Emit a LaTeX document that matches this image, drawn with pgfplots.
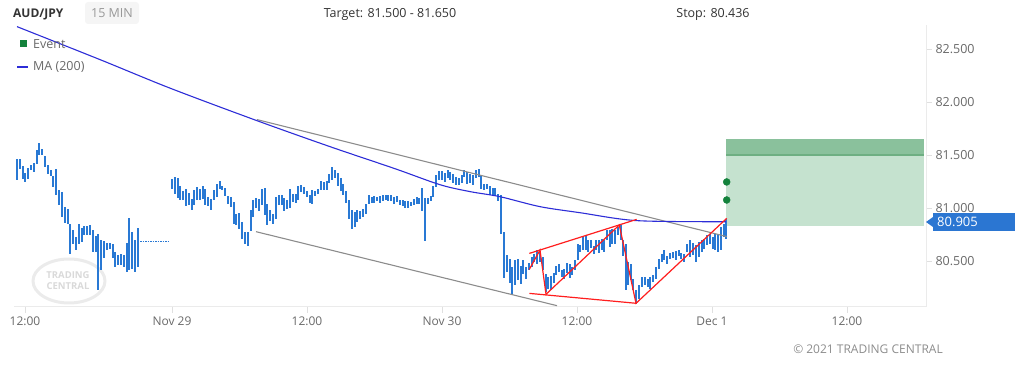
\documentclass[border=0pt]{standalone}
\usepackage{pgfplots}
\pgfplotsset{compat=1.18}
\usepackage{pgfplotstable}
\usepackage{fontspec}
\setmainfont{Open Sans}
\definecolor{barblue}{RGB}{41,121,212}
\definecolor{mablue}{RGB}{45,45,215}
\definecolor{chgray}{RGB}{140,140,140}
\definecolor{patred}{RGB}{255,30,30}
\definecolor{evgreen}{RGB}{20,130,60}
\definecolor{zonelight}{RGB}{197,226,207}
\definecolor{zonedark}{RGB}{138,193,156}
\definecolor{zoneline}{RGB}{110,175,130}
\definecolor{lblblue}{RGB}{43,118,210}
\definecolor{txtdark}{RGB}{51,51,51}
\definecolor{txtgray}{RGB}{105,105,105}
\definecolor{boxgray}{RGB}{245,245,245}

\pgfplotstableread{
x lo hi
17 81.269 81.467
20 81.372 81.467
23 81.278 81.401
25 81.250 81.335
28 81.278 81.382
31 81.363 81.410
34 81.344 81.429
37 81.420 81.552
39 81.505 81.618
42 81.505 81.561
45 81.391 81.495
48 81.325 81.410
51 81.306 81.363
53 81.203 81.306
56 81.127 81.372
59 81.033 81.175
62 80.920 81.156
65 80.863 81.014
68 80.854 80.995
70 80.571 80.854
73 80.665 80.797
76 80.608 80.731
79 80.665 80.854
82 80.684 80.816
84 80.750 80.835
87 80.750 80.835
90 80.750 80.844
93 80.590 80.797
96 80.590 80.740
98 80.231 80.759
101 80.420 80.703
104 80.533 80.693
107 80.608 80.674
110 80.618 80.674
113 80.533 80.665
115 80.448 80.590
118 80.467 80.561
121 80.467 80.571
124 80.448 80.561
127 80.401 80.674
129 80.420 80.910
132 80.429 80.778
135 80.401 80.703
138 80.448 80.816
172 81.184 81.278
175 81.137 81.297
178 81.099 81.288
180 81.080 81.212
183 81.080 81.165
186 81.023 81.184
189 81.033 81.146
192 80.986 81.089
194 81.033 81.175
197 81.080 81.203
200 81.080 81.184
203 81.089 81.212
205 81.033 81.184
208 81.023 81.108
211 80.986 81.089
214 81.080 81.175
217 81.108 81.231
220 81.184 81.259
222 81.175 81.212
225 81.118 81.193
228 81.042 81.118
231 81.014 81.108
234 80.854 81.061
236 80.844 80.948
239 80.806 80.957
242 80.712 80.872
245 80.665 80.778
248 80.646 80.778
251 80.788 80.986
253 80.920 81.080
256 81.004 81.099
259 80.976 81.089
262 81.033 81.184
265 80.939 81.193
267 80.844 81.042
270 80.882 80.986
273 80.854 80.948
276 80.901 81.108
279 81.033 81.127
282 81.033 81.127
284 80.976 81.099
287 80.995 81.080
290 81.004 81.184
293 81.061 81.137
296 81.052 81.137
298 81.080 81.212
301 81.156 81.222
304 81.137 81.203
307 81.108 81.165
310 81.052 81.127
312 81.042 81.175
315 81.118 81.165
318 81.137 81.184
321 81.175 81.259
324 81.175 81.250
327 81.175 81.259
329 81.240 81.325
332 81.269 81.391
335 81.288 81.363
338 81.212 81.335
341 81.165 81.288
343 81.127 81.231
346 81.052 81.165
349 80.901 81.080
352 80.806 80.986
355 80.825 80.967
357 80.872 80.986
360 80.901 80.976
363 80.920 80.995
366 80.948 81.042
369 81.042 81.127
372 81.052 81.108
374 81.052 81.118
377 81.070 81.108
380 81.052 81.118
383 81.070 81.127
386 81.080 81.127
388 81.070 81.127
391 81.070 81.127
394 81.042 81.108
397 81.061 81.118
400 81.033 81.080
403 81.023 81.080
405 81.004 81.070
408 81.004 81.070
411 81.023 81.061
414 81.033 81.089
417 81.042 81.108
419 81.042 81.099
422 80.976 81.193
425 80.693 81.099
428 81.042 81.099
431 81.070 81.118
433 81.108 81.212
436 81.203 81.316
439 81.269 81.354
442 81.269 81.354
445 81.250 81.335
448 81.288 81.363
450 81.269 81.344
453 81.240 81.325
456 81.222 81.297
459 81.222 81.288
462 81.240 81.316
464 81.297 81.363
467 81.231 81.344
470 81.240 81.325
473 81.222 81.316
476 81.288 81.363
479 81.297 81.372
481 81.184 81.316
484 81.175 81.231
487 81.184 81.231
490 81.127 81.212
493 81.127 81.193
495 81.118 81.193
498 81.070 81.137
501 80.759 81.127
504 80.344 80.778
507 80.401 80.561
510 80.297 80.523
512 80.184 80.448
515 80.278 80.514
518 80.325 80.523
521 80.288 80.457
523 80.382 80.514
526 80.335 80.448
529 80.420 80.486
532 80.448 80.542
534 80.495 80.571
537 80.476 80.608
540 80.495 80.590
543 80.420 80.542
546 80.212 80.382
548 80.240 80.354
551 80.231 80.363
554 80.297 80.391
556 80.372 80.457
559 80.401 80.476
562 80.354 80.420
564 80.335 80.429
567 80.391 80.486
570 80.344 80.476
572 80.372 80.448
575 80.420 80.514
578 80.514 80.665
580 80.590 80.656
583 80.608 80.731
586 80.608 80.750
588 80.590 80.703
591 80.628 80.703
594 80.571 80.646
596 80.608 80.703
599 80.580 80.703
602 80.608 80.712
604 80.590 80.703
607 80.703 80.797
610 80.637 80.797
612 80.665 80.806
615 80.665 80.797
618 80.750 80.825
621 80.703 80.844
623 80.552 80.703
626 80.231 80.665
628 80.278 80.495
631 80.325 80.476
633 80.231 80.335
636 80.099 80.231
639 80.146 80.278
642 80.259 80.354
645 80.278 80.354
648 80.259 80.335
650 80.240 80.354
653 80.306 80.372
656 80.335 80.448
659 80.429 80.523
662 80.495 80.571
664 80.514 80.608
667 80.476 80.552
670 80.523 80.580
673 80.533 80.590
676 80.514 80.599
679 80.552 80.608
681 80.523 80.580
684 80.495 80.571
687 80.590 80.665
690 80.542 80.703
693 80.561 80.674
696 80.495 80.656
699 80.542 80.684
702 80.590 80.703
704 80.618 80.712
707 80.656 80.750
710 80.665 80.759
713 80.618 80.731
715 80.608 80.759
718 80.590 80.750
721 80.608 80.825
724 80.731 80.854
726 80.712 80.901
}\bars

\begin{document}
\begin{tikzpicture}[x=1pt,y=1pt]
\useasboundingbox (0,0) rectangle (1015,366);
% watermark
\draw[black!8, line width=3pt] (69,85) ellipse [x radius=36, y radius=22];
\node[font=\bfseries\fontsize{9.5}{9.5}\selectfont, text=black!15, inner sep=0] at (68,91) {TRADING};
\node[font=\bfseries\fontsize{9.5}{9.5}\selectfont, text=black!15, inner sep=0] at (68,80) {CENTRAL};
\begin{axis}[
  at={(14,56)}, anchor=south west,
  scale only axis, width=912pt, height=282pt,
  xmin=14, xmax=926, ymin=80.071, ymax=82.731,
  axis x line*=bottom, axis y line*=right,
  axis line style={draw=black!8, line width=0.8pt},
  tick align=outside, major tick length=6pt,
  tick style={draw=black!12, line width=0.8pt},
  xtick={25,172,307,442,577,712,847},
  xticklabels={12:00,Nov 29,12:00,Nov 30,12:00,Dec 1,12:00},
  ytick={80.5,81,81.5,82,82.5},
  yticklabel pos=right,
  x tick label style={font=\fontsize{12}{14}\selectfont, text=txtgray, yshift=-1pt},
  y tick label style={font=\fontsize{12.5}{14}\selectfont, text=txtgray, xshift=0pt,
    /pgf/number format/.cd, fixed, fixed zerofill, precision=3, assume math mode=true},
  scaled y ticks=false,
]
% target zone
\fill[zonelight] (axis cs:726,80.835) rectangle (axis cs:924,81.5);
\fill[zonedark] (axis cs:726,81.5) rectangle (axis cs:924,81.65);
\draw[zoneline, line width=1.5pt] (axis cs:726,81.5) -- (axis cs:924,81.5);
% bars
\addplot[draw=none, mark=none, forget plot,
  error bars/.cd, y dir=plus, y explicit, error mark=none,
  error bar style={draw=barblue, line width=1.3pt}]
  table[x=x, y=lo, y error plus expr=\thisrow{hi}-\thisrow{lo}] {\bars};
% gap
\addplot[barblue, line width=1pt, dash pattern=on 1.5pt off 1pt] coordinates {(140,80.684) (170,80.684)};
% channel
\addplot[chgray, line width=1.1pt] coordinates {(257,81.835) (727,80.731)};
\addplot[chgray, line width=1.1pt] coordinates {(256,80.778) (557,80.080)};
% MA 200
\addplot[mablue, line width=1.1pt, smooth] coordinates {
(17,82.712) (100,82.401) (170,82.132) (257,81.825) (330,81.580) (395,81.372)
(440,81.221) (470,81.156) (500,81.108) (540,81.014) (580,80.957) (637,80.882) (726,80.872)};
% pattern
\addplot[patred, line width=1.2pt] coordinates {(529.3,80.573) (636.7,80.894)};
\addplot[patred, line width=1.2pt] coordinates {(529.3,80.196) (636.7,80.102)};
\addplot[patred, line width=1.2pt] coordinates {(529.3,80.422) (540,80.605) (546,80.187) (619.3,80.841) (636,80.102) (726.7,80.904)};
% events
\addplot[only marks, mark=*, mark size=3.5pt, color=evgreen] coordinates {(726.7,81.247) (726.7,81.077)};
\end{axis}
% last price label
\fill[lblblue] (926,144) -- (933,149) -- (933,139) -- cycle;
\fill[lblblue] (933,135) rectangle (1015,153);
\node[anchor=west, text=white, font=\fontsize{13}{13}\selectfont, inner sep=0] at (937,144) {80.905};
% legend
\fill[evgreen] (20,319) rectangle (27,326);
\node[anchor=west, text=txtgray, font=\fontsize{12.5}{14}\selectfont, inner sep=0] at (33,322) {Event};
\draw[mablue, line width=2pt] (17,299) -- (28,299);
\node[anchor=west, text=txtgray, font=\fontsize{12.5}{14}\selectfont, inner sep=0] at (33,299) {MA (200)};
% header
\node[anchor=west, text=txtdark, font=\bfseries\fontsize{12}{14}\selectfont, inner sep=0] at (13,352) {AUD/JPY};
\fill[boxgray, rounded corners=3pt] (85,342) rectangle (139,364);
\node[text=black!40, font=\fontsize{12.5}{14}\selectfont, inner sep=0] at (112,353) {15 MIN};
\node[text=txtdark, font=\fontsize{12.5}{14}\selectfont, inner sep=0] at (390,352) {Target: 81.500 - 81.650};
\node[text=txtdark, font=\fontsize{12.5}{14}\selectfont, inner sep=0] at (713,352) {Stop: 80.436};
\node[text=black!45, font=\fontsize{12}{14}\selectfont, inner sep=0] at (868,17) {© 2021 TRADING CENTRAL};
\end{tikzpicture}
\end{document}
